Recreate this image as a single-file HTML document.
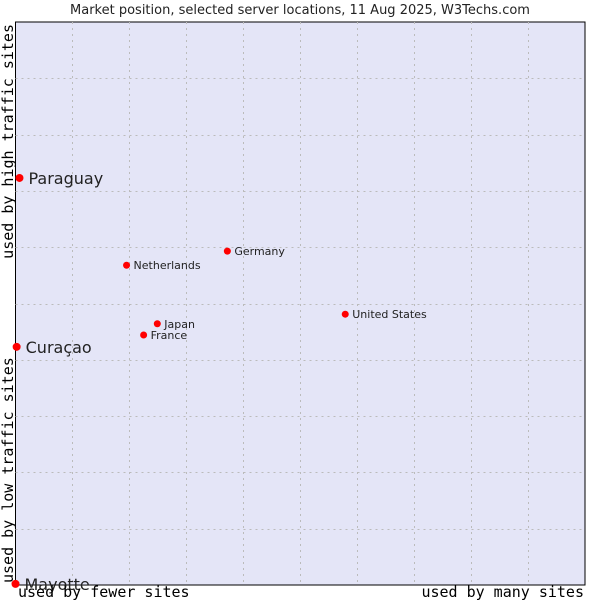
<!DOCTYPE html>
<html><head><meta charset="utf-8"><style>
html,body{margin:0;padding:0;background:#fff;}
svg{display:block;font-family:"DejaVu Sans","Liberation Sans",sans-serif;}
</style></head><body>
<svg id="chart" width="600" height="600" viewBox="0 0 600 600">
<text x="300" y="14" text-anchor="middle" font-size="13" fill="#222">Market position, selected server locations, 11 Aug 2025, W3Techs.com</text>
<rect x="15.5" y="22" width="569.5" height="563" fill="#e4e5f7" stroke="#000" stroke-width="1"/>
<g id="grid"></g>
<g id="points"></g>
<text x="18" y="597" font-family="DejaVu Sans Mono, Liberation Mono, monospace" font-size="15" fill="#000">used by fewer sites</text>
<text x="584" y="597" text-anchor="end" font-family="DejaVu Sans Mono, Liberation Mono, monospace" font-size="15" fill="#000">used by many sites</text>
<text transform="translate(13,24) rotate(-90)" text-anchor="end" font-family="DejaVu Sans Mono, Liberation Mono, monospace" font-size="15" fill="#000">used by high traffic sites</text>
<text transform="translate(13,583) rotate(-90)" font-family="DejaVu Sans Mono, Liberation Mono, monospace" font-size="15" fill="#000">used by low traffic sites</text>
</svg>
<script>
const countries = ["Paraguay","Curaçao","Mayotte","Netherlands","Germany","United States","Japan","France"];
const xValues = [0.7,0.2,0,19.5,37.2,57.9,24.9,22.5];
const yValues = [72.3,42.3,0.2,56.8,59.3,48.1,46.4,44.4];
const bigLabel = [true,true,true,false,false,false,false,false];
const NS="http://www.w3.org/2000/svg";
const L=15.5,R=585,T=22,B=585;
function xs(v){return L+(R-L)*v/100;}
function ys(v){return B-(B-T)*v/100;}
const grid=document.getElementById('grid');
for(let i=1;i<10;i++){
  const v=document.createElementNS(NS,'line');
  
  
  const gx=Math.round(xs(i*10))+0.5;
  v.setAttribute('x1',gx);v.setAttribute('x2',gx);v.setAttribute('y1',T);v.setAttribute('y2',B);
  v.setAttribute('stroke','#bbb');v.setAttribute('stroke-dasharray','2,4');
  grid.appendChild(v);
  const h=document.createElementNS(NS,'line');
  
  
  const gy=Math.round(ys(i*10))+0.5;
  h.setAttribute('y1',gy);h.setAttribute('y2',gy);h.setAttribute('x1',L);h.setAttribute('x2',R);
  h.setAttribute('stroke','#bbb');h.setAttribute('stroke-dasharray','2,4');
  grid.appendChild(h);
}
const pts=document.getElementById('points');
countries.forEach((c,i)=>{
  const px=xs(xValues[i]),py=ys(yValues[i]);
  const d=document.createElementNS(NS,'circle');
  
  
  d.setAttribute('cx',px);d.setAttribute('cy',py);d.setAttribute('r',bigLabel[i]?4:3.5);
  d.setAttribute('fill','#f00');
  pts.appendChild(d);
  const t=document.createElementNS(NS,'text');
  
  
  t.setAttribute('x',px+(bigLabel[i]?9:7));
  t.setAttribute('y',py+(bigLabel[i]?6:4));
  t.setAttribute('font-size',bigLabel[i]?16:11);
  t.setAttribute('fill','#222');
  t.textContent=c;
  pts.appendChild(t);
});
</script>
</body></html>
